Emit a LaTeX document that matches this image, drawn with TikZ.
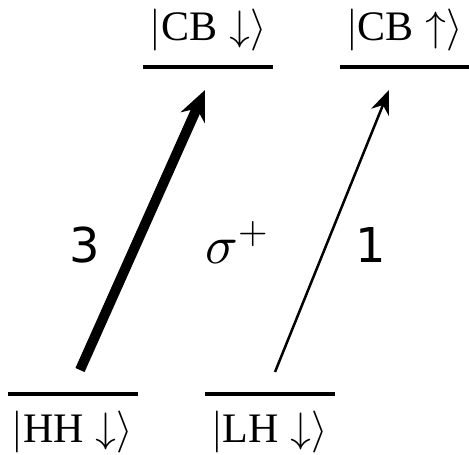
\documentclass[tikz,border=0pt]{standalone}
\usepackage{fontspec}
\usepackage{unicode-math}
\setmainfont{Liberation Serif}
\setmathfont{Latin Modern Math}
\newfontfamily\numfont{DejaVu Sans}
\usetikzlibrary{arrows.meta,positioning}

\tikzset{
  level/.style={fill=black, inner sep=0pt, minimum width=130pt, minimum height=4.5pt},
  ket/.style={inner sep=0pt, font=\fontsize{42}{50}\selectfont},
  weight/.style={inner sep=0pt, font=\numfont\fontsize{48}{56}\selectfont},
  strong/.style={line width=10pt, -{Stealth[length=30pt,width=26pt]}},
  weak/.style={line width=2.5pt, -{Stealth[length=24pt,width=19pt]}},
}

\begin{document}
\begin{tikzpicture}[x=1pt,y=1pt]
\useasboundingbox (0,0) rectangle (469,455);
% levels
\node[level] (cbdown) at (208,388) {};
\node[level] (cbup) at (404.5,388) {};
\node[level] (hhdown) at (72.5,61) {};
\node[level] (lhdown) at (269.5,61) {};
\node[ket, above=13pt of cbdown] (cbdownlabel) {$|\text{CB}\downarrow\rangle$};
\node[ket, above=13pt of cbup] (cbuplabel) {$|\text{CB}\uparrow\rangle$};
\node[ket, below=14pt of hhdown] (hhdownlabel) {$|\text{HH}\downarrow\rangle$};
\node[ket, below=14pt of lhdown] (lhdownlabel) {$|\text{LH}\downarrow\rangle$};
% transitions
\coordinate (hhtail) at (80,85);
\coordinate (cbdowntip) at (205,365);
\coordinate (lhtail) at (275,83);
\coordinate (cbuptip) at (389,365);
\draw[strong] (hhtail) -- (cbdowntip);
\draw[weak] (lhtail) -- (cbuptip);
\node[weight] (strongweight) at (85,210) {3};
\node[weight] (weakweight) at (371,210) {1};
\node[inner sep=0pt, font=\fontsize{54}{60}\selectfont] (polar) at (237,212) {$\sigma^{+}$};
\end{tikzpicture}
\end{document}
